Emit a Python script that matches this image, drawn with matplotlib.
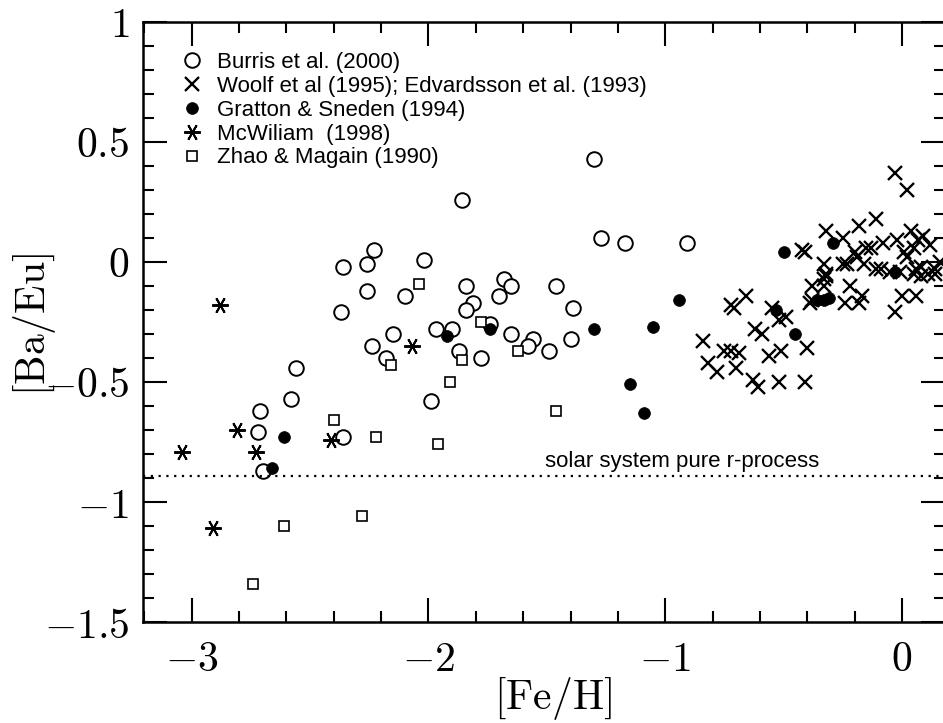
"""[Ba/Eu] vs [Fe/H] for halo/disk stars, several literature samples."""

import matplotlib

matplotlib.use("Agg")
import matplotlib.pyplot as plt  # noqa: E402
from matplotlib.ticker import MultipleLocator, FuncFormatter  # noqa: E402

# Burris et al. (2000) - open circles
burris_feh = [-2.23, -2.36, -2.26, -2.02, -2.26, -2.10, -2.37, -2.15, -1.97, -2.24,
              -2.18, -2.56, -2.58, -1.99, -2.71, -2.72, -2.36, -2.70, -1.30, -1.86,
              -1.27, -1.17, -0.91, -1.84, -1.68, -1.65, -1.46, -1.81, -1.70, -1.84,
              -1.39, -1.90, -1.74, -1.65, -1.56, -1.58, -1.40, -1.87, -1.78, -1.49]
burris_baeu = [0.05, -0.02, -0.01, 0.01, -0.12, -0.14, -0.21, -0.30, -0.28, -0.35,
               -0.40, -0.44, -0.57, -0.58, -0.62, -0.71, -0.73, -0.87, 0.43, 0.26,
               0.10, 0.08, 0.08, -0.10, -0.07, -0.10, -0.10, -0.17, -0.14, -0.20,
               -0.19, -0.28, -0.26, -0.30, -0.32, -0.35, -0.32, -0.37, -0.40, -0.37]

# Woolf et al (1995); Edvardsson et al. (1993) - crosses
woolf_feh = [-0.03, 0.02, -0.11, -0.18, -0.32, -0.25, -0.42, -0.41, -0.33, -0.25,
             -0.20, -0.15, -0.13, -0.08, -0.02, 0.04, 0.09, 0.07, 0.01, 0.02,
             0.05, 0.12, -0.16, -0.19, -0.23, -0.09, -0.11, -0.05, -0.01, 0.06,
             0.08, 0.11, 0.14, 0.16, -0.32, -0.33, -0.38, -0.33, -0.22, -0.17,
             0.00, 0.06, -0.03, -0.39, -0.24, -0.18, 0.05, 0.08, -0.72, -0.71,
             -0.66, -0.55, -0.52, -0.49, -0.84, -0.62, -0.59, -0.75, -0.69, -0.72,
             -0.82, -0.78, -0.70, -0.56, -0.51, -0.40, -0.63, -0.61, -0.52, -0.41,
             -0.32, -0.38, 0.14]
woolf_baeu = [0.37, 0.30, 0.18, 0.15, 0.13, 0.10, 0.05, 0.04, -0.01, -0.01,
              0.04, 0.06, 0.06, 0.08, 0.09, 0.13, 0.11, 0.09, 0.04, 0.02,
              0.06, 0.07, -0.01, 0.02, -0.01, -0.03, -0.03, -0.04, -0.04, -0.03,
              -0.02, -0.05, -0.05, 0.00, -0.06, -0.07, -0.10, -0.10, -0.10, -0.14,
              -0.14, -0.14, -0.21, -0.17, -0.17, -0.17, -0.05, -0.06, -0.18, -0.19,
              -0.14, -0.19, -0.24, -0.23, -0.33, -0.28, -0.30, -0.37, -0.38, -0.37,
              -0.42, -0.46, -0.44, -0.39, -0.37, -0.36, -0.49, -0.52, -0.50, -0.50,
              -0.05, -0.16, -0.03]

# Gratton & Sneden (1994) - filled circles
gratton_feh = [-2.61, -2.66, -1.92, -1.74, -1.30, -1.15, -1.09, -1.05, -0.94, -0.50,
               -0.53, -0.45, -0.36, -0.33, -0.31, -0.29, -0.03]
gratton_baeu = [-0.73, -0.86, -0.31, -0.28, -0.28, -0.51, -0.63, -0.27, -0.16, 0.04,
                -0.20, -0.30, -0.16, -0.16, -0.15, 0.08, -0.04]

# McWiliam (1998) - asterisks
mcw_feh = [-2.88, -2.07, -2.81, -3.04, -2.73, -2.41, -2.91]
mcw_baeu = [-0.18, -0.35, -0.70, -0.79, -0.79, -0.74, -1.11]

# Zhao & Magain (1990) - open squares
zhao_feh = [-2.04, -2.16, -2.40, -2.22, -1.96, -2.61, -2.28, -2.74, -1.78, -1.62,
            -1.86, -1.91, -1.46]
zhao_baeu = [-0.09, -0.43, -0.66, -0.73, -0.76, -1.10, -1.06, -1.34, -0.25, -0.37,
             -0.41, -0.50, -0.62]

solar_r = -0.89

plt.rcParams["mathtext.fontset"] = "cm"
plt.rcParams["font.family"] = ["Liberation Sans", "DejaVu Sans"]

fig = plt.figure(figsize=(9.43, 7.23), dpi=100)
ax = fig.add_axes([143 / 943, 101 / 723, 802 / 943, 600 / 723])

kw = dict(linestyle="none", color="black")
ax.plot(burris_feh, burris_baeu, marker="o", ms=10.5, mfc="white", mew=1.4,
        label="Burris et al. (2000)", **kw)
ax.plot(woolf_feh, woolf_baeu, marker="x", ms=10, mew=1.7,
        label="Woolf et al (1995); Edvardsson et al. (1993)", **kw)
ax.plot(gratton_feh, gratton_baeu, marker="o", ms=8.5, mfc="black", mew=0.5,
        label="Gratton & Sneden (1994)", **kw)
ax.plot(mcw_feh, mcw_baeu, marker=(6, 2, 90), ms=12, mew=1.4,
        label="McWiliam  (1998)", **kw)
ax.plot(zhao_feh, zhao_baeu, marker="s", ms=7, mfc="white", mew=1.2,
        label="Zhao & Magain (1990)", **kw)

ax.axhline(solar_r, color="black", linestyle=(0, (1, 2.5)), lw=1.6)
ax.text(-1.508, -0.853, "solar system pure r-process", fontsize=16,
        ha="left", va="baseline")

ax.set_xlim(-3.206, 0.182)
ax.set_ylim(-1.5, 1.0)

ax.xaxis.set_major_locator(MultipleLocator(1))
ax.xaxis.set_minor_locator(MultipleLocator(0.2))
ax.yaxis.set_major_locator(MultipleLocator(0.5))
ax.yaxis.set_minor_locator(MultipleLocator(0.1))


def fmt(v, pos):
    return "$%g$" % v


ax.xaxis.set_major_formatter(FuncFormatter(fmt))
ax.yaxis.set_major_formatter(FuncFormatter(fmt))
ax.tick_params(which="both", direction="in", top=True, right=True, width=1.5,
               labelsize=30)
ax.tick_params(which="major", length=17)
ax.tick_params(which="minor", length=8)
ax.tick_params(axis="x", which="major", pad=13)
ax.tick_params(axis="y", which="major", pad=10)
for sp in ax.spines.values():
    sp.set_linewidth(1.8)

ax.set_xlabel(r"$[\mathrm{Fe/H}]$", fontsize=30)
ax.set_ylabel(r"$[\mathrm{Ba/Eu}]$", fontsize=30)
ax.xaxis.set_label_coords(0.511, -0.088)
ax.yaxis.set_label_coords(-0.106, 0.495)

ax.legend(loc="upper left", bbox_to_anchor=(0.0473, 0.9497), frameon=False,
          fontsize=16, handlelength=1.0, handletextpad=0.63, labelspacing=0.126,
          borderpad=0, borderaxespad=0, numpoints=1)

fig.savefig("out.png", dpi=100)
